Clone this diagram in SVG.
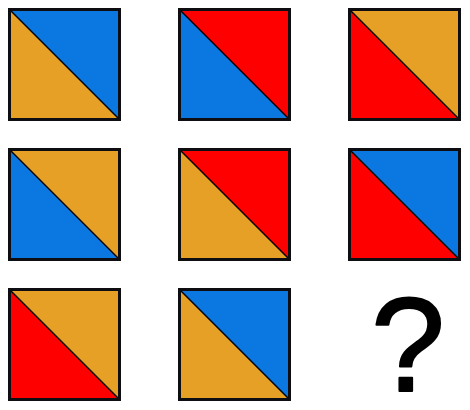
<svg xmlns="http://www.w3.org/2000/svg" width="470" height="410" viewBox="0 0 470 410">
<style>
.b{fill:#0a78e0}.o{fill:#e6a026}.r{fill:#ff0000}
.d{stroke:#000;stroke-width:1.5;fill:none}
.f{fill:none;stroke:#0d0d12;stroke-width:3}
.q{font-family:"Liberation Sans",Arial,sans-serif;font-size:133px;fill:#000;stroke:#000;stroke-width:2;stroke-linejoin:round}
</style>
<defs>
<g id="frame"><line class="d" x1="0" y1="0" x2="110" y2="110"/><rect class="f" x="0" y="0" width="110" height="110"/></g>
</defs>
<rect width="470" height="410" fill="#fff"/>
<g id="s11" transform="translate(9.5,9.5)"><polygon class="b" points="0,0 110,0 110,110"/><polygon class="o" points="0,0 0,110 110,110"/><use href="#frame"/></g>
<g id="s12" transform="translate(179.5,9.5)"><polygon class="r" points="0,0 110,0 110,110"/><polygon class="b" points="0,0 0,110 110,110"/><use href="#frame"/></g>
<g id="s13" transform="translate(349.5,9.5)"><polygon class="o" points="0,0 110,0 110,110"/><polygon class="r" points="0,0 0,110 110,110"/><use href="#frame"/></g>
<g id="s21" transform="translate(9.5,149.5)"><polygon class="o" points="0,0 110,0 110,110"/><polygon class="b" points="0,0 0,110 110,110"/><use href="#frame"/></g>
<g id="s22" transform="translate(179.5,149.5)"><polygon class="r" points="0,0 110,0 110,110"/><polygon class="o" points="0,0 0,110 110,110"/><use href="#frame"/></g>
<g id="s23" transform="translate(349.5,149.5)"><polygon class="b" points="0,0 110,0 110,110"/><polygon class="r" points="0,0 0,110 110,110"/><use href="#frame"/></g>
<g id="s31" transform="translate(9.5,289.5)"><polygon class="o" points="0,0 110,0 110,110"/><polygon class="r" points="0,0 0,110 110,110"/><use href="#frame"/></g>
<g id="s32" transform="translate(179.5,289.5)"><polygon class="b" points="0,0 110,0 110,110"/><polygon class="o" points="0,0 0,110 110,110"/><use href="#frame"/></g>
<g id="q"><text class="q" x="408" y="391" text-anchor="middle">?</text></g>
</svg>
